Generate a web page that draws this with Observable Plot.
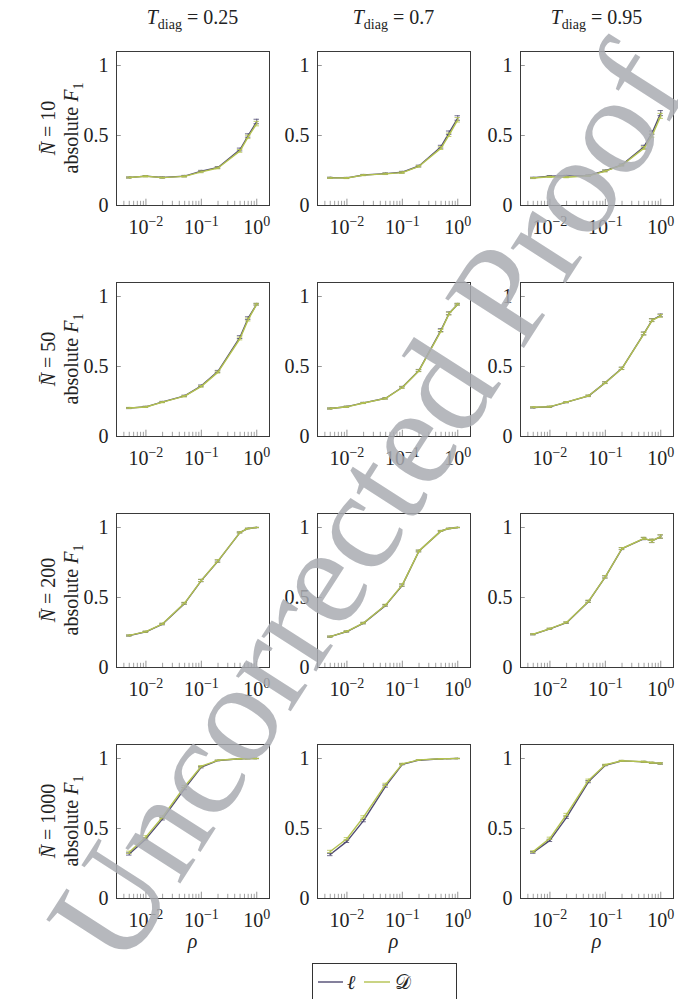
<!DOCTYPE html>
<html><head><meta charset="utf-8">
<script src="https://cdn.jsdelivr.net/npm/d3@7"></script>
<script src="https://cdn.jsdelivr.net/npm/@observablehq/plot@0.6"></script>
<style>
body{margin:0;background:#fff;}
#root{position:relative;width:678px;height:999px;overflow:hidden;color:#222;}
.abs{position:absolute;}
.ttl{font-size:20px;white-space:nowrap;transform:translateX(-50%);}
.ttl sub{font-size:14px;}
.rowlab{font-size:20px;line-height:23px;text-align:center;white-space:nowrap;transform:translate(-50%,-50%) rotate(-90deg);}
.rowlab sub{font-size:14px;line-height:0;}
</style></head><body><div id="root"></div>
<script>
// ---- data ----
const rho = [0.005, 0.01, 0.02, 0.05, 0.1, 0.2, 0.5, 0.7, 1];
const Tdiag = ["0.25", "0.7", "0.95"];
const Nbar = ["10", "50", "200", "1000"];
const xMajor = [0.01, 0.1, 1];
const xMinor = [0.004,0.005,0.006,0.007,0.008,0.009,0.02,0.03,0.04,0.05,0.06,0.07,0.08,0.09,0.2,0.3,0.4,0.5,0.6,0.7,0.8,0.9];
const yTicks = [0, 0.5, 1];

// N=10
const ell_N10_T025 = [0.200,0.210,0.200,0.210,0.245,0.272,0.400,0.500,0.600];
const D_N10_T025   = [0.200,0.209,0.199,0.208,0.240,0.268,0.390,0.490,0.585];
const err_N10_T025 = [0.004,0.004,0.004,0.005,0.006,0.006,0.010,0.012,0.016];
const ell_N10_T07  = [0.198,0.197,0.218,0.228,0.238,0.282,0.420,0.520,0.625];
const D_N10_T07    = [0.197,0.196,0.217,0.226,0.235,0.280,0.410,0.505,0.612];
const err_N10_T07  = [0.004,0.004,0.004,0.005,0.006,0.006,0.010,0.012,0.016];
const ell_N10_T095 = [0.198,0.210,0.212,0.215,0.248,0.290,0.420,0.520,0.660];
const D_N10_T095   = [0.196,0.205,0.202,0.212,0.246,0.288,0.410,0.500,0.640];
const err_N10_T095 = [0.004,0.004,0.004,0.005,0.006,0.006,0.010,0.012,0.018];
// N=50
const ell_N50_T025 = [0.203,0.212,0.247,0.290,0.362,0.465,0.710,0.845,0.945];
const D_N50_T025   = [0.204,0.211,0.245,0.288,0.358,0.460,0.700,0.835,0.945];
const err_N50_T025 = [0.004,0.004,0.004,0.005,0.006,0.007,0.010,0.010,0.006];
const ell_N50_T07  = [0.200,0.213,0.240,0.273,0.352,0.472,0.760,0.880,0.945];
const D_N50_T07    = [0.200,0.212,0.239,0.272,0.350,0.470,0.755,0.878,0.945];
const err_N50_T07  = [0.004,0.004,0.004,0.005,0.006,0.007,0.010,0.010,0.006];
const ell_N50_T095 = [0.207,0.212,0.245,0.290,0.385,0.487,0.736,0.832,0.865];
const D_N50_T095   = [0.209,0.213,0.246,0.291,0.384,0.486,0.735,0.830,0.862];
const err_N50_T095 = [0.004,0.004,0.004,0.005,0.006,0.008,0.010,0.010,0.010];
// N=200
const ell_N200_T025 = [0.228,0.255,0.310,0.458,0.621,0.760,0.965,0.993,1.000];
const D_N200_T025   = [0.229,0.256,0.312,0.460,0.622,0.762,0.965,0.993,1.000];
const err_N200_T025 = [0.004,0.004,0.005,0.006,0.008,0.008,0.004,0.002,0.001];
const ell_N200_T07  = [0.220,0.257,0.317,0.444,0.588,0.832,0.976,0.993,1.000];
const D_N200_T07    = [0.221,0.258,0.318,0.446,0.590,0.833,0.976,0.993,1.000];
const err_N200_T07  = [0.004,0.004,0.005,0.006,0.008,0.006,0.003,0.002,0.001];
const ell_N200_T095 = [0.237,0.276,0.320,0.472,0.647,0.849,0.921,0.904,0.935];
const D_N200_T095   = [0.238,0.277,0.322,0.474,0.648,0.850,0.922,0.905,0.936];
const err_N200_T095 = [0.004,0.004,0.005,0.007,0.008,0.007,0.008,0.012,0.012];
// N=1000
const ell_N1000_T025 = [0.318,0.426,0.569,0.785,0.938,0.986,0.998,0.999,1.000];
const D_N1000_T025   = [0.330,0.440,0.582,0.800,0.945,0.987,0.998,0.999,1.000];
const err_N1000_T025 = [0.008,0.008,0.008,0.008,0.005,0.002,0.001,0.001,0.001];
const ell_N1000_T07  = [0.314,0.408,0.556,0.803,0.959,0.988,0.998,0.999,1.000];
const D_N1000_T07    = [0.336,0.427,0.583,0.815,0.962,0.990,0.998,0.999,1.000];
const err_N1000_T07  = [0.008,0.008,0.008,0.008,0.004,0.002,0.001,0.001,0.001];
const ell_N1000_T095 = [0.329,0.415,0.580,0.835,0.952,0.983,0.976,0.969,0.964];
const D_N1000_T095   = [0.335,0.430,0.600,0.845,0.955,0.984,0.977,0.970,0.965];
const err_N1000_T095 = [0.006,0.008,0.008,0.008,0.004,0.003,0.004,0.004,0.005];

const ellGrid = [[ell_N10_T025, ell_N10_T07, ell_N10_T095],[ell_N50_T025, ell_N50_T07, ell_N50_T095],[ell_N200_T025, ell_N200_T07, ell_N200_T095],[ell_N1000_T025, ell_N1000_T07, ell_N1000_T095]];
const DGrid = [[D_N10_T025, D_N10_T07, D_N10_T095],[D_N50_T025, D_N50_T07, D_N50_T095],[D_N200_T025, D_N200_T07, D_N200_T095],[D_N1000_T025, D_N1000_T07, D_N1000_T095]];
const errGrid = [[err_N10_T025, err_N10_T07, err_N10_T095],[err_N50_T025, err_N50_T07, err_N50_T095],[err_N200_T025, err_N200_T07, err_N200_T095],[err_N1000_T025, err_N1000_T07, err_N1000_T095]];

// ---- pick an installed serif font ----
function pickSerif() {
  const cv = document.createElement("canvas").getContext("2d");
  const sample = "Uncorrected Proof 0.5 10 abcdefghij";
  const w = f => { cv.font = "40px " + f; return cv.measureText(sample).width; };
  const mono = w("monospace");
  const cands = ["Liberation Serif", "DejaVu Serif", "Noto Serif", "Tinos", "Times New Roman", "Times", "FreeSerif", "Nimbus Roman", "Latin Modern Roman", "CMU Serif", "Georgia"];
  for (const c of cands) {
    const a = w(`'${c}', monospace`);
    const b = w(`'${c}', sans-serif`);
    if (Math.abs(a - b) < 0.5 && Math.abs(a - mono) > 0.5) return `'${c}', serif`;
  }
  return "serif";
}
const FONT = pickSerif();
const serifOK = FONT !== "serif";
document.getElementById("root").style.fontFamily = FONT;

// ---- layout ----
const colLeft = [116, 317, 520];
const rowTop = [51, 282, 513, 744];
const PW = 153, PH = 154, ML = 46, MB = 40;
const cEll = "#4f4a72", cD = "#b3c24f";
const xDomain = [Math.pow(10, -2.531), Math.pow(10, 0.23)];
const root = document.getElementById("root");

function seriesMarks(vals, errs, color) {
  const data = rho.map((r, i) => ({rho: r, v: vals[i], e: errs[i]}));
  return [
    Plot.ruleX(data, {x: "rho", y1: d => d.v - d.e, y2: d => d.v + d.e, stroke: color, strokeWidth: 0.8}),
    Plot.ruleY(data, {y: d => d.v + d.e, x1: d => d.rho / 1.12, x2: d => d.rho * 1.12, stroke: color, strokeWidth: 0.8}),
    Plot.ruleY(data, {y: d => d.v - d.e, x1: d => d.rho / 1.12, x2: d => d.rho * 1.12, stroke: color, strokeWidth: 0.8}),
    Plot.line(data, {x: "rho", y: "v", stroke: color, strokeWidth: 1.4})
  ];
}

for (let r = 0; r < 4; r++) {
  for (let c = 0; c < 3; c++) {
    const chart = Plot.plot({
      width: ML + PW + 1, height: PH + 1 + MB,
      marginLeft: ML, marginRight: 1, marginTop: 1, marginBottom: MB,
      x: {type: "log", domain: xDomain, axis: null},
      y: {domain: [0, 1.1], axis: null},
      style: {fontFamily: FONT, fontSize: "20px", overflow: "visible", background: "transparent", color: "#222"},
      marks: [
        Plot.ruleX(xMinor, {x: d => d, y1: 0, y2: 0.03, stroke: "#8a8a8a", strokeWidth: 0.8}),
        Plot.ruleX(xMajor, {x: d => d, y1: 0, y2: 0.045, stroke: "#8a8a8a", strokeWidth: 0.9}),
        Plot.ruleY(yTicks, {y: d => d, x1: xDomain[0], x2: xDomain[0] * 1.22, stroke: "#8a8a8a", strokeWidth: 0.9}),
        Plot.text(xMajor, {x: d => d, y: 0, text: d => "10^" + Math.round(Math.log10(d)), lineAnchor: "bottom", dy: 28, textAnchor: "middle", fill: "#222", fontSize: 20, fontFamily: FONT}),
        Plot.text(yTicks, {x: xDomain[0], y: d => d, text: d => String(d), textAnchor: "end", lineAnchor: "middle", dx: -8, fill: "#222", fontSize: 20, fontFamily: FONT}),
        ...seriesMarks(ellGrid[r][c], errGrid[r][c], cEll),
        ...seriesMarks(DGrid[r][c], errGrid[r][c], cD),
        Plot.frame({stroke: "#3a3a3a", strokeWidth: 1})
      ]
    });
    chart.querySelectorAll("text").forEach(t => {
      const m = /^10\^(-?\d+)$/.exec(t.textContent);
      if (m) {
        t.textContent = "";
        const b = document.createElementNS("http://www.w3.org/2000/svg", "tspan");
        b.textContent = "10";
        const e = document.createElementNS("http://www.w3.org/2000/svg", "tspan");
        e.textContent = m[1].replace("-", "\u2212");
        e.setAttribute("dy", "-8");
        e.setAttribute("font-size", "14");
        t.appendChild(b); t.appendChild(e);
      }
    });
    chart.classList.add("abs");
    chart.style.left = (colLeft[c] - ML) + "px";
    chart.style.top = (rowTop[r] - 1) + "px";
    root.appendChild(chart);
  }
}

// column titles
Tdiag.forEach((t, c) => {
  const d = document.createElement("div");
  d.className = "abs ttl";
  d.style.left = (colLeft[c] + PW / 2) + "px";
  d.style.top = "6px";
  d.innerHTML = `<i>T</i><sub>diag</sub> = ${t}`;
  root.appendChild(d);
});
// row labels
Nbar.forEach((n, r) => {
  const d = document.createElement("div");
  d.className = "abs rowlab";
  d.style.left = "60px";
  d.style.top = (rowTop[r] + PH / 2) + "px";
  d.innerHTML = `<i>N\u0304</i> = ${n}<br>absolute <i>F</i><sub>1</sub>`;
  root.appendChild(d);
});
// x labels
colLeft.forEach(x0 => {
  const d = document.createElement("div");
  d.className = "abs ttl";
  d.style.left = (x0 + PW / 2) + "px";
  d.style.top = "930px";
  d.innerHTML = `<i>ρ</i>`;
  root.appendChild(d);
});
// legend
const leg = document.createElement("div");
leg.className = "abs";
leg.style.left = "312px"; leg.style.top = "963px";
leg.innerHTML = `<svg width="145" height="40">
<rect x="0.5" y="0.5" width="144" height="39" fill="#fff" stroke="#333"/>
<line x1="6" x2="31" y1="19" y2="19" stroke="${cEll}" stroke-width="1.4"/>
<text x="35" y="26" font-size="20" font-style="italic" fill="#222">ℓ</text>
<line x1="52" x2="78" y1="19" y2="19" stroke="${cD}" stroke-width="1.4"/>
<text x="83" y="26" font-size="20" fill="#222">𝒟</text>
</svg>`;
leg.querySelectorAll("text").forEach(t => t.style.fontFamily = FONT);
root.appendChild(leg);
// watermark
const wm = document.createElement("div");
wm.className = "abs";
wm.style.left = "0px"; wm.style.top = "0px"; wm.style.pointerEvents = "none";
const wmSize = serifOK ? 142 : 130;
wm.innerHTML = `<svg width="678" height="999"><text x="380" y="512" transform="rotate(-57.3 380 512)" text-anchor="middle" dominant-baseline="middle" font-size="${wmSize}" fill="#a9acb1" fill-opacity="0.85">Uncorrected Proof</text></svg>`;
wm.querySelector("text").style.fontFamily = FONT;
root.appendChild(wm);
</script></body></html>
